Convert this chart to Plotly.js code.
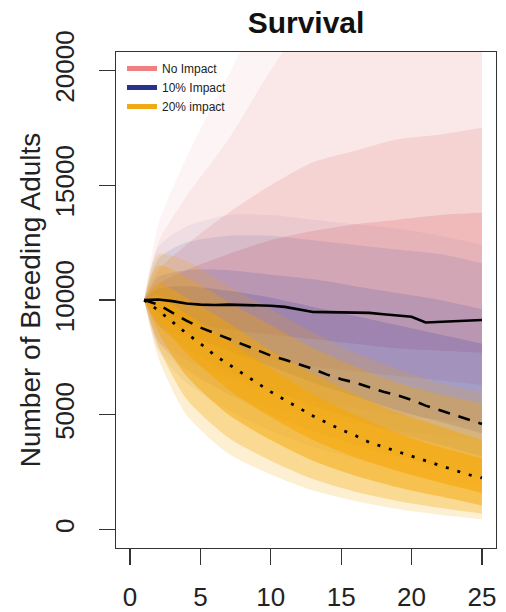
<!DOCTYPE html>
<html>
<head>
<meta charset="utf-8">
<script src="https://cdn.plot.ly/plotly-3.0.1.min.js"></script>
<style>
  html, body { margin: 0; padding: 0; background: #fff; }
  #chart { width: 506px; height: 612px; }
</style>
</head>
<body>
<div id="chart"></div>
<script>
// ---- Data ----
const years = [1,2,3,4,5,6,7,8,9,10,11,12,13,14,15,16,17,18,19,20,21,22,23,24,25];
const meanNoImpact = [10000,10020,9950,9850,9800,9780,9800,9790,9770,9750,9700,9600,9480,9470,9460,9470,9440,9380,9320,9270,9020,9050,9070,9100,9130];
const mean10Impact = [10000,9800,9450,9100,8800,8550,8300,8050,7800,7580,7400,7200,7000,6750,6550,6400,6200,6000,5850,5650,5400,5200,5000,4800,4600];
const mean20Impact = [10000,9550,9050,8550,8100,7600,7200,6800,6400,6000,5650,5300,4950,4650,4350,4100,3800,3600,3400,3200,3000,2800,2600,2400,2250];

// envelope of the simulated trajectories (fringe = rare, outer = sparse, mid, inner = dense)
const bandYears = [1,2,4,7,10,13,16,19,22,25];
const noFringeLo = [10000,7900,6900,5900,5300,4900,4600,4300,4100,3900];
const noFringeHi = [10000,13300,16200,19800,23000,23000,23000,23000,23000,23000];
const noOuterLo  = [10000,8200,7400,6600,6000,5600,5300,5000,4800,4600];
const noOuterHi  = [10000,12500,14500,17000,20000,22500,23000,23000,23000,23000];
const noMidLo    = [10000,8900,8400,7800,7400,7100,6900,6700,6500,6300];
const noMidHi    = [10000,11300,12400,13800,15000,16000,16500,17000,17200,17500];
const noInLo     = [10000,9500,9100,8700,8500,8300,8100,7900,7800,7700];
const noInHi     = [10000,10700,11300,12000,12600,13000,13300,13500,13700,13800];

const tenFringeLo = [10000,7800,6400,5200,4300,3600,3100,2600,2200,1900];
const tenFringeHi = [10000,12300,13200,13700,13700,13500,13300,13100,12800,12400];
const tenOuterLo  = [10000,8200,7000,5900,5000,4300,3700,3200,2700,2300];
const tenOuterHi  = [10000,11800,12500,12800,12800,12600,12400,12200,12000,11600];
const tenMidLo    = [10000,8900,7900,6900,6100,5400,4800,4200,3700,3200];
const tenMidHi    = [10000,11000,11300,11300,11100,10900,10600,10300,10000,9600];
const tenInLo     = [10000,9400,8600,7800,7100,6400,5800,5200,4700,4200];
const tenInHi     = [10000,10500,10600,10400,10100,9700,9300,8900,8500,8100];

const twFringeLo = [10000,7500,5000,3300,2400,1700,1250,900,650,450];
const twFringeHi = [10000,12000,11700,10600,9600,8600,7700,7000,6400,6000];
const twOuterLo  = [10000,8000,5700,4000,3000,2200,1650,1250,950,700];
const twOuterHi  = [10000,11500,11000,9900,8900,7900,7100,6400,5900,5500];
const twMidLo    = [10000,8600,6700,5000,3900,3000,2350,1850,1450,1050];
const twMidHi    = [10000,10700,10100,9000,7800,6800,5900,5100,4500,3900];
const twInLo     = [10000,9100,7700,6100,4900,3900,3150,2550,2050,1600];
const twInHi     = [10000,10200,9400,8200,7000,5900,5000,4200,3600,3100];

const seriesNames = ['No Impact', '10% Impact', '20% impact'];
const xTicks = [0,5,10,15,20,25];
const yTicks = [0,5000,10000,15000,20000];

// ---- Styles ----
const FONT = 'Liberation Sans, Arial, Helvetica, sans-serif';
const pinkRGB = '228,112,112';
const blueRGB = '50,60,160';
const orangeRGB = '245,165,0';

function band(lo, hi, rgb, alpha) {
  return [
    { x: bandYears, y: lo, mode: 'lines', line: { width: 0, shape: 'spline', smoothing: 0.7 },
      hoverinfo: 'skip', showlegend: false },
    { x: bandYears, y: hi, mode: 'lines', line: { width: 0, shape: 'spline', smoothing: 0.7 },
      fill: 'tonexty', fillcolor: 'rgba(' + rgb + ',' + alpha + ')',
      hoverinfo: 'skip', showlegend: false }
  ];
}

const traces = [].concat(
  band(noFringeLo, noFringeHi, pinkRGB, 0.07),
  band(noOuterLo, noOuterHi, pinkRGB, 0.1),
  band(noMidLo, noMidHi, pinkRGB, 0.17),
  band(noInLo, noInHi, pinkRGB, 0.25),
  band(tenFringeLo, tenFringeHi, blueRGB, 0.06),
  band(tenOuterLo, tenOuterHi, blueRGB, 0.1),
  band(tenMidLo, tenMidHi, blueRGB, 0.15),
  band(tenInLo, tenInHi, blueRGB, 0.2),
  band(twFringeLo, twFringeHi, orangeRGB, 0.18),
  band(twOuterLo, twOuterHi, orangeRGB, 0.3),
  band(twMidLo, twMidHi, orangeRGB, 0.45),
  band(twInLo, twInHi, orangeRGB, 0.55)
);

// mean lines
traces.push({ x: years, y: meanNoImpact, mode: 'lines', line: { color: '#000', width: 2.6 }, showlegend: false, name: 'Mean no impact' });
traces.push({ x: years, y: mean10Impact, mode: 'lines', line: { color: '#000', width: 2.6, dash: '12px,9px' }, showlegend: false, name: 'Mean 10% impact' });
traces.push({ x: years, y: mean20Impact, mode: 'lines', line: { color: '#000', width: 2.8, dash: '3px,9px' }, showlegend: false, name: 'Mean 20% impact' });

// legend entries
const legendColors = ['rgb(240,128,128)', 'rgb(40,50,140)', 'rgb(242,170,20)'];
seriesNames.forEach((n, i) => {
  traces.push({ x: [null], y: [null], mode: 'lines', name: n,
    line: { color: legendColors[i], width: 3 }, showlegend: true });
});

const layout = {
  width: 506, height: 612,
  margin: { l: 116, r: 10, t: 52, b: 64 },
  paper_bgcolor: '#fff', plot_bgcolor: '#fff',
  font: { family: FONT, color: '#222' },
  title: { text: '<b>Survival</b>', font: { family: FONT, size: 30, color: '#111' },
           x: 0.5, xref: 'paper', xanchor: 'center', y: 1 - 22 / 612, yref: 'container', yanchor: 'middle' },
  xaxis: {
    range: [-1, 26], tickvals: xTicks, ticktext: xTicks.map(String),
    showgrid: false, zeroline: false,
    showline: true, mirror: true, linecolor: '#333', linewidth: 1.2,
    ticks: 'outside', ticklen: 16, tickwidth: 1.2, tickcolor: '#333',
    tickfont: { family: FONT, size: 26, color: '#222' },
    ticklabelstandoff: 10
  },
  yaxis: {
    range: [-800, 20800], tickvals: yTicks, ticktext: yTicks.map(String),
    showgrid: false, zeroline: false,
    showline: true, mirror: true, linecolor: '#333', linewidth: 1.2,
    ticks: 'outside', ticklen: 16, tickwidth: 1.2, tickcolor: '#333',
    tickangle: -90,
    tickfont: { family: FONT, size: 26, color: '#222' },
    ticklabelstandoff: 14,
    title: { text: 'Number of Breeding Adults', font: { family: FONT, size: 28, color: '#222' }, standoff: 1 }
  },
  legend: {
    x: (122 - 116) / 380, y: (548 - 54) / 496, xanchor: 'left', yanchor: 'top',
    bgcolor: 'rgba(0,0,0,0)', borderwidth: 0, traceorder: 'normal',
    font: { family: FONT, size: 12, color: '#222' },
    tracegroupgap: 0, itemsizing: 'constant'
  },
  showlegend: true
};

Plotly.newPlot('chart', traces, layout, { displayModeBar: false, staticPlot: true });
</script>
</body>
</html>
